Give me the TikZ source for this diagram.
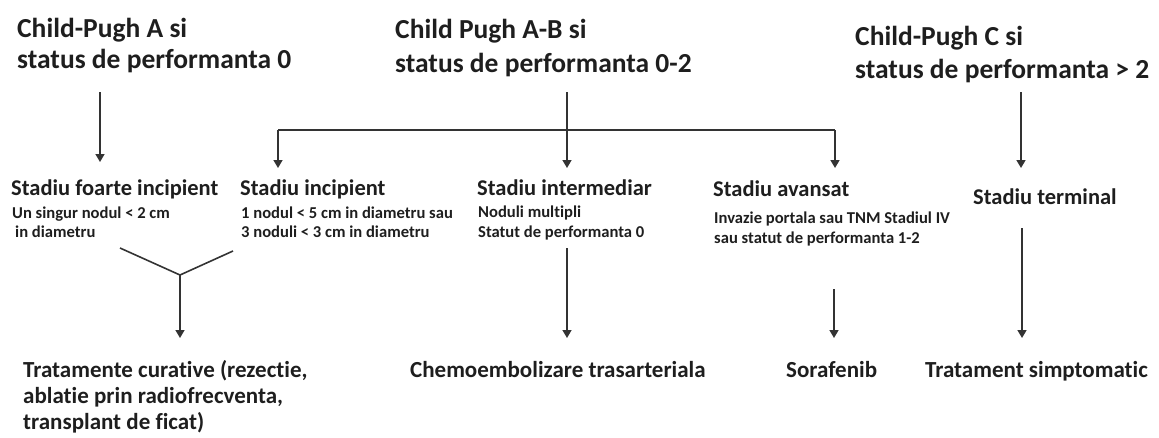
\documentclass[tikz,border=0pt]{standalone}
\usepackage{fontspec}
\setmainfont{Carlito}[Ligatures={NoCommon,NoRequired,NoContextual}]
\usetikzlibrary{arrows.meta}
\definecolor{txt}{HTML}{1E1E1E}
\definecolor{ln}{HTML}{333333}
\tikzset{
  title/.style={anchor=base west, inner sep=0pt, text=txt, font=\bfseries\fontsize{27.5}{31}\selectfont},
  head/.style={anchor=base west, inner sep=0pt, text=txt, font=\bfseries\fontsize{22.5}{26}\selectfont},
  small/.style={anchor=base west, inner sep=0pt, text=txt, font=\bfseries\fontsize{16.6}{19}\selectfont},
  res/.style={anchor=base west, inner sep=0pt, text=txt, font=\bfseries\fontsize{23}{26}\selectfont},
  conn/.style={line width=1.6pt, draw=ln},
  arr/.style={conn, -{Triangle[width=9pt,length=8pt]}},
}
\begin{document}
\begin{tikzpicture}[x=1pt,y=-1pt]
\useasboundingbox (0,0) rectangle (1159,437);
% titles
\node[title] (t1a) at (17,37) {Child-Pugh A si};
\node[title] (t1b) at (17,68) {status de performanta 0};
\node[title] (t2a) at (395,38) {Child Pugh A-B si};
\node[title] (t2b) at (395,72) {status de performanta 0-2};
\node[title] (t3a) at (855,45) {Child-Pugh C si};
\node[title] (t3b) at (855,78) {status de performanta > 2};
% stages
\node[head] (s1) at (11,195) {Stadiu foarte incipient};
\node[small] (s1a) at (12,218) {Un singur nodul < 2 cm};
\node[small] (s1b) at (15,237) {in diametru};
\node[head] (s2) at (240,195) {Stadiu incipient};
\node[small] (s2a) at (241,218) {1 nodul < 5 cm in diametru sau};
\node[small] (s2b) at (241,237) {3 noduli < 3 cm in diametru};
\node[head] (s3) at (477,195) {Stadiu intermediar};
\node[small] (s3a) at (478,217) {Noduli multipli};
\node[small] (s3b) at (478,237) {Statut de performanta 0};
\node[head] (s4) at (713,196) {Stadiu avansat};
\node[small] (s4a) at (714,223) {Invazie portala sau TNM Stadiul IV};
\node[small] (s4b) at (714,243) {sau statut de performanta 1-2};
\node[head] (s5) at (973,204) {Stadiu terminal};
% results
\node[res] (r1a) at (23,377) {Tratamente curative (rezectie,};
\node[res] (r1b) at (23,403) {ablatie prin radiofrecventa,};
\node[res] (r1c) at (23,429) {transplant de ficat)};
\node[res] (r2) at (410,377) {Chemoembolizare trasarteriala};
\node[res] (r3) at (786,377) {Sorafenib};
\node[res] (r4) at (925,377) {Tratament simptomatic};
% connector points
\coordinate (t1o) at (100,92);
\coordinate (s1i) at (100,162);
\coordinate (t2o) at (567,92);
\coordinate (bl) at (278,130);
\coordinate (br) at (835,130);
\coordinate (s2i) at (278,168);
\coordinate (s3i) at (567,168);
\coordinate (s4i) at (835,168);
\coordinate (t3o) at (1021,92);
\coordinate (s5i) at (1021,168);
\coordinate (s1o) at (120,248);
\coordinate (s2o) at (233,251);
\coordinate (yj) at (180,275);
\coordinate (r1i) at (180,338);
\coordinate (s3o) at (567,248);
\coordinate (r2i) at (567,338);
\coordinate (s4o) at (834,289);
\coordinate (r3i) at (834,338);
\coordinate (s5o) at (1022,228);
\coordinate (r4i) at (1022,338);
% connectors
\draw[arr] (t1o) -- (s1i);
\draw[conn] (bl) -- (br);
\draw[arr] (t2o) -- (s3i);
\draw[arr] (bl) -- (s2i);
\draw[arr] (br) -- (s4i);
\draw[arr] (t3o) -- (s5i);
\draw[conn] (s1o) -- (yj) -- (s2o);
\draw[arr] (yj) -- (r1i);
\draw[arr] (s3o) -- (r2i);
\draw[arr] (s4o) -- (r3i);
\draw[arr] (s5o) -- (r4i);
\end{tikzpicture}
\end{document}
